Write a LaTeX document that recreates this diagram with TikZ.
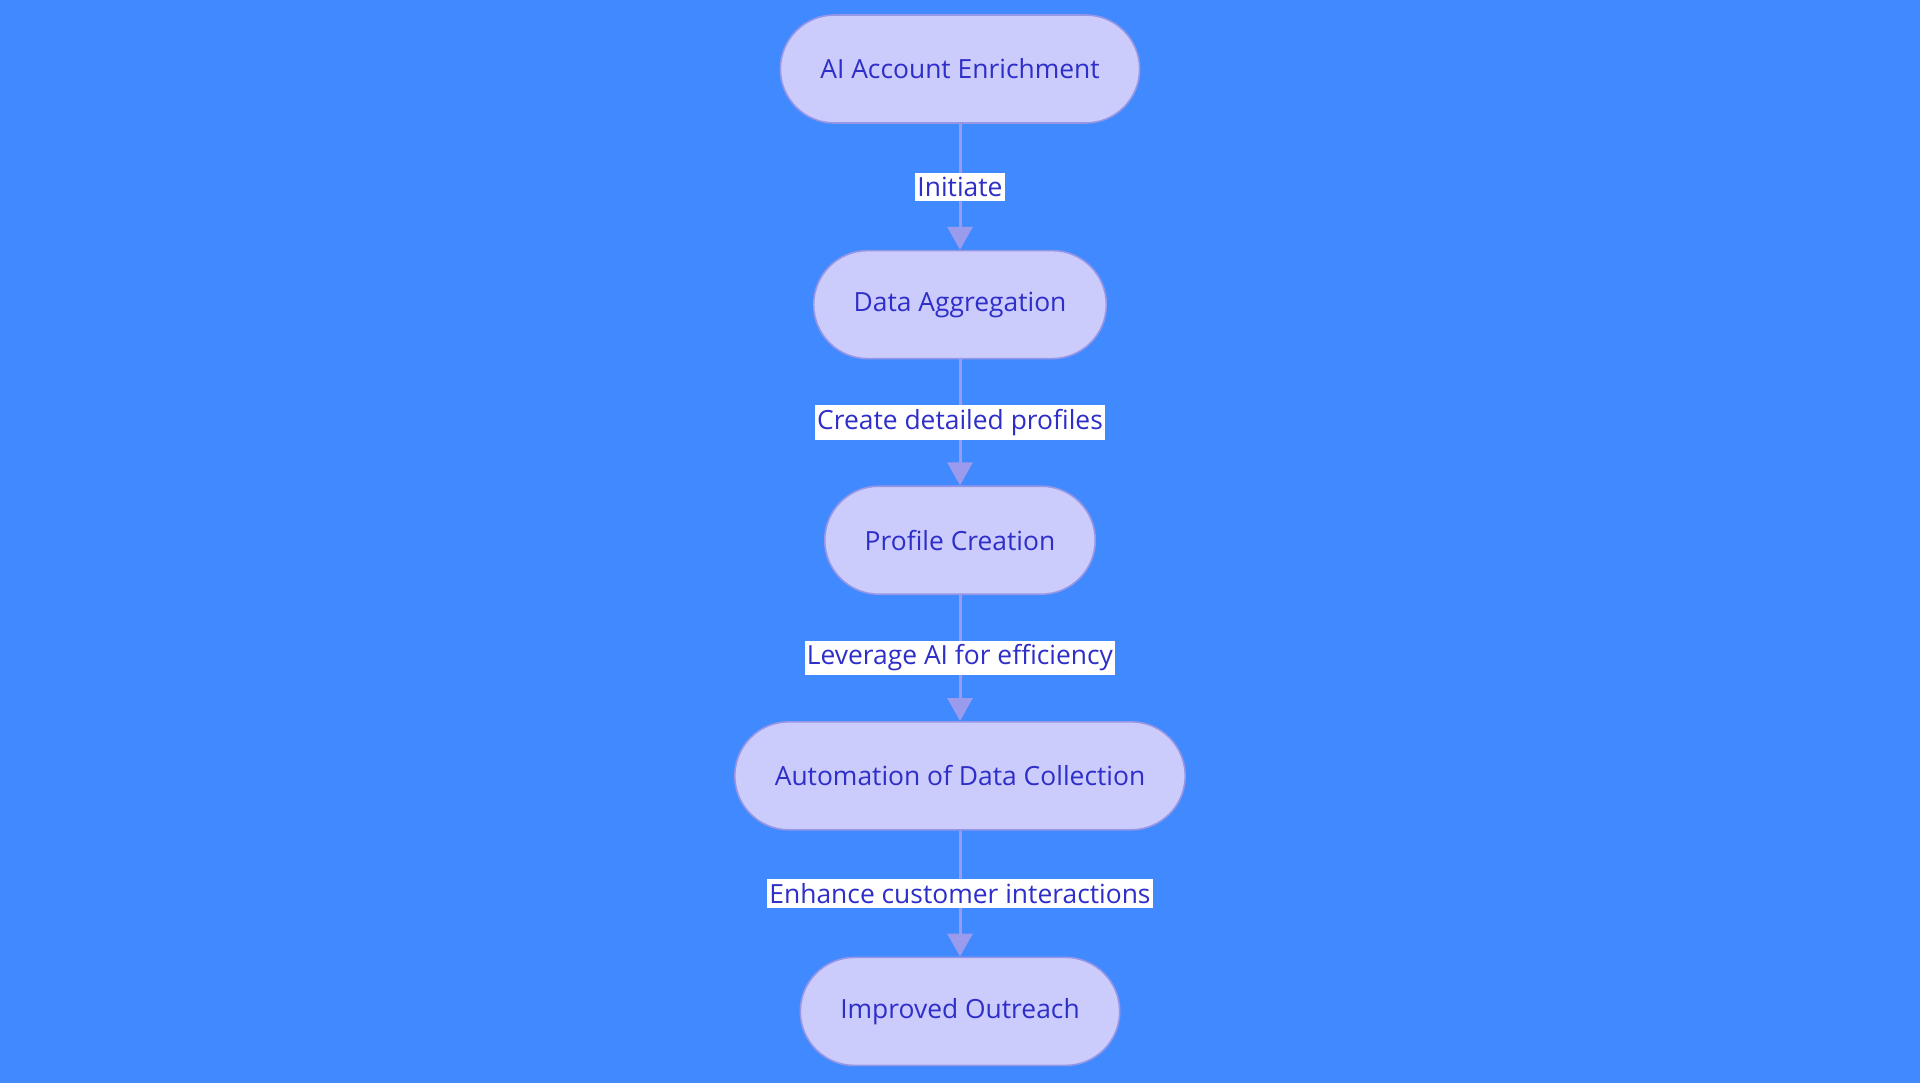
\documentclass[tikz,border=0pt]{standalone}
\usepackage{fontspec}
\setmainfont{Open Sans}
\usetikzlibrary{positioning,arrows.meta}
\definecolor{bgblue}{RGB}{65,137,255}
\definecolor{stepfill}{RGB}{203,203,252}
\definecolor{stepline}{RGB}{150,150,230}
\definecolor{steptext}{RGB}{46,46,200}
\definecolor{flowline}{RGB}{155,155,238}
\begin{document}
\begin{tikzpicture}[node distance=63pt,
  stepbox/.style={draw=stepline,line width=0.8pt,fill=stepfill,text=steptext,
    rounded corners=27pt,minimum height=54pt,inner xsep=20pt,font=\fontsize{13.2}{15}\selectfont},
  flow/.style={draw=flowline,line width=1.5pt,-{Triangle[length=11.5pt,width=12.5pt]}},
  tag/.style={fill=white,text=steptext,inner xsep=1pt,inner ysep=2pt,font=\fontsize{13.2}{15}\selectfont}]
\useasboundingbox[fill=bgblue] (0,0) rectangle (960pt,-541.5pt);
\node[stepbox] (enrich) at (480pt,-34.5pt) {AI Account Enrichment};
\node[stepbox,below=of enrich] (aggr) {Data Aggregation};
\node[stepbox,below=of aggr] (profile) {Profile Creation};
\node[stepbox,below=of profile] (auto) {Automation of Data Collection};
\node[stepbox,below=of auto] (outreach) {Improved Outreach};
\draw[flow] (enrich) -- node[tag] {Initiate} (aggr);
\draw[flow] (aggr) -- node[tag] {Create detailed profiles} (profile);
\draw[flow] (profile) -- node[tag] {Leverage AI for efficiency} (auto);
\draw[flow] (auto) -- node[tag] {Enhance customer interactions} (outreach);
\end{tikzpicture}
\end{document}
